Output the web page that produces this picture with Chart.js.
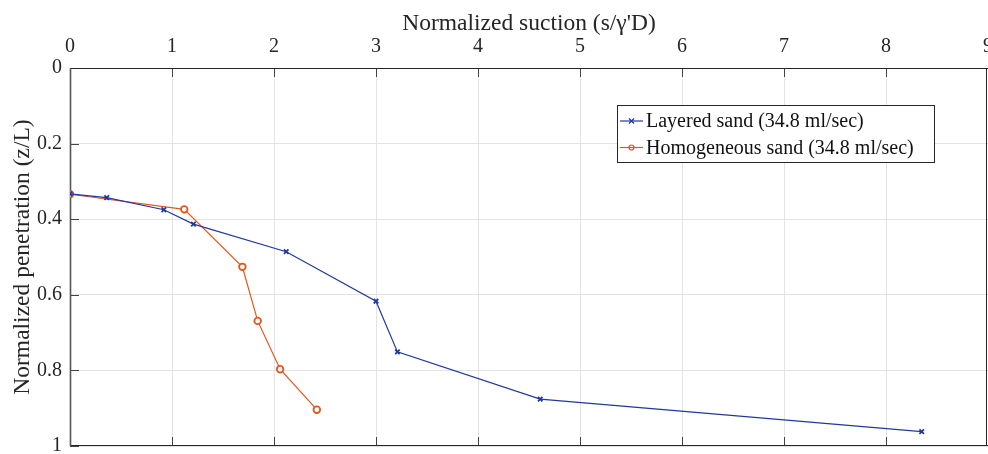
<!DOCTYPE html>
<html>
<head>
<meta charset="utf-8">
<script src="https://cdn.jsdelivr.net/npm/chart.js@4.4.1/dist/chart.umd.min.js"></script>
<style>
  body { margin: 0; background: #fff; }
  #wrap { width: 988px; height: 454px; }
</style>
</head>
<body>
<div id="wrap"><canvas id="suction-chart" width="988" height="454"></canvas></div>
<script>
// data
const layeredX = [0, 0.36, 0.92, 1.21, 2.12, 3.0, 3.21, 4.61, 8.35];
const layeredY = [0.333, 0.343, 0.375, 0.413, 0.486, 0.617, 0.751, 0.876, 0.962];
const homoX = [0, 1.12, 1.69, 1.84, 2.06, 2.42];
const homoY = [0.334, 0.374, 0.526, 0.669, 0.797, 0.904];
const xTicks = [0, 1, 2, 3, 4, 5, 6, 7, 8, 9];
const yTicks = [0, 0.2, 0.4, 0.6, 0.8, 1];
const seriesLabels = ['Layered sand (34.8 ml/sec)', 'Homogeneous sand (34.8 ml/sec)'];

const FONT = 'Liberation Serif';
const BLUE = '#21399c';
const ORANGE = '#e2561d';

function toPoints(xs, ys) {
    return xs.map((x, i) => ({ x: x, y: ys[i] }));
}

//axes box + inward ticks, MATLAB style
const framePlugin = {
    id: 'frame',
    beforeDatasetsDraw(chart) {
        const { ctx, chartArea: a, scales } = chart;
        const len = 9;
        ctx.save();
        ctx.strokeStyle = '#444';
        ctx.lineWidth = 1;
        ctx.beginPath();
        xTicks.forEach(v => {
            const px = Math.round(scales.x.getPixelForValue(v)) + 0.5;
            ctx.moveTo(px, a.top); ctx.lineTo(px, a.top + len);
            ctx.moveTo(px, a.bottom); ctx.lineTo(px, a.bottom - len);
        });
        yTicks.forEach(v => {
            const py = Math.round(scales.y.getPixelForValue(v)) + 0.5;
            ctx.moveTo(a.left, py); ctx.lineTo(a.left + len, py);
        });
        ctx.stroke();
        ctx.strokeStyle = '#262626';
        ctx.beginPath();
        ctx.moveTo(a.left, a.top + 0.5); ctx.lineTo(a.right, a.top + 0.5);
        ctx.moveTo(a.left, a.bottom - 0.5); ctx.lineTo(a.right, a.bottom - 0.5);
        ctx.moveTo(a.right - 1.5, a.top); ctx.lineTo(a.right - 1.5, a.bottom);
        ctx.stroke();
        ctx.strokeStyle = '#555';
        ctx.lineWidth = 1.6;
        ctx.beginPath();
        ctx.moveTo(a.left + 0.5, a.top); ctx.lineTo(a.left + 0.5, a.bottom);
        ctx.stroke();
        ctx.restore();
    }
};

//legend box inside the plot
const boxLegend = {
    id: 'boxLegend',
    afterDatasetsDraw(chart) {
        const ctx = chart.ctx;
        const x0 = 617, y0 = 105, w = 317, h = 57;
        ctx.save();
        ctx.fillStyle = '#fff';
        ctx.fillRect(x0, y0, w, h);
        ctx.strokeStyle = '#262626';
        ctx.lineWidth = 1;
        ctx.strokeRect(x0 + 0.5, y0 + 0.5, w, h);
        ctx.font = '20px "' + FONT + '"';
        ctx.textBaseline = 'middle';
        chart.data.datasets.forEach((ds, i) => {
            const cy = 121 + i * 26.5;
            ctx.strokeStyle = ds.borderColor;
            ctx.lineWidth = 1.2;
            ctx.beginPath();
            ctx.moveTo(620, cy); ctx.lineTo(643, cy);
            ctx.stroke();
            const cx = 631.5;
            ctx.beginPath();
            if (ds.pointStyle === 'circle') {
                ctx.arc(cx, cy, 2.5, 0, Math.PI * 2);
            } else {
                ctx.moveTo(cx - 2.5, cy - 2.5); ctx.lineTo(cx + 2.5, cy + 2.5);
                ctx.moveTo(cx - 2.5, cy + 2.5); ctx.lineTo(cx + 2.5, cy - 2.5);
            }
            ctx.stroke();
            ctx.fillStyle = '#111';
            ctx.fillText(ds.label, 646, cy + 1);
        });
        ctx.restore();
    }
};

const chart = new Chart(document.getElementById('suction-chart'), {
    type: 'scatter',
    data: {
        datasets: [{
            label: seriesLabels[0],
            data: toPoints(layeredX, layeredY),
            showLine: true,
            borderColor: BLUE,
            backgroundColor: BLUE,
            borderWidth: 1.2,
            pointStyle: 'crossRot',
            pointRadius: 3.2,
            pointBorderWidth: 1.8
        }, {
            label: seriesLabels[1],
            data: toPoints(homoX, homoY),
            showLine: true,
            borderColor: ORANGE,
            backgroundColor: '#fff',
            borderWidth: 1.2,
            pointStyle: 'circle',
            pointRadius: 3.3,
            pointBorderWidth: 1.8
        }]
    },
    options: {
        responsive: false,
        animation: false,
        layout: { autoPadding: false, padding: { top: 0, left: 0, right: 0, bottom: 8 } },
        plugins: {
            legend: { display: false },
            tooltip: { enabled: false }
        },
        scales: {
            x: {
                type: 'linear',
                position: 'top',
                min: 0,
                max: 9,
                afterBuildTicks: s => { s.ticks = xTicks.map(v => ({ value: v })); },
                afterFit: s => { s.height = 68; s.paddingLeft = 0; s.paddingRight = 0; },
                grid: { color: '#e3e3e3', drawTicks: false },
                border: { display: false },
                ticks: {
                    color: '#262626', padding: 9, maxRotation: 0,
                    font: { family: FONT, size: 20 },
                    callback: v => String(v)
                },
                title: {
                    display: true,
                    text: "Normalized suction (s/\u03B3'D)",
                    color: '#262626',
                    padding: { top: 10 },
                    font: { family: FONT, size: 23.5 }
                }
            },
            y: {
                type: 'linear',
                reverse: true,
                min: 0,
                max: 1,
                afterBuildTicks: s => { s.ticks = yTicks.map(v => ({ value: v })); },
                afterFit: s => { s.width = 70; s.paddingTop = 0; s.paddingBottom = 0; },
                grid: { color: '#e3e3e3', drawTicks: false },
                border: { display: false },
                ticks: {
                    color: '#262626', padding: 8,
                    font: { family: FONT, size: 20 },
                    callback: v => String(Math.round(v * 10) / 10)
                },
                title: {
                    display: true,
                    text: 'Normalized penetration (z/L)',
                    color: '#262626',
                    padding: { top: 9 },
                    font: { family: FONT, size: 23.5 }
                }
            }
        }
    },
    plugins: [framePlugin, boxLegend]
});
</script>
</body>
</html>
